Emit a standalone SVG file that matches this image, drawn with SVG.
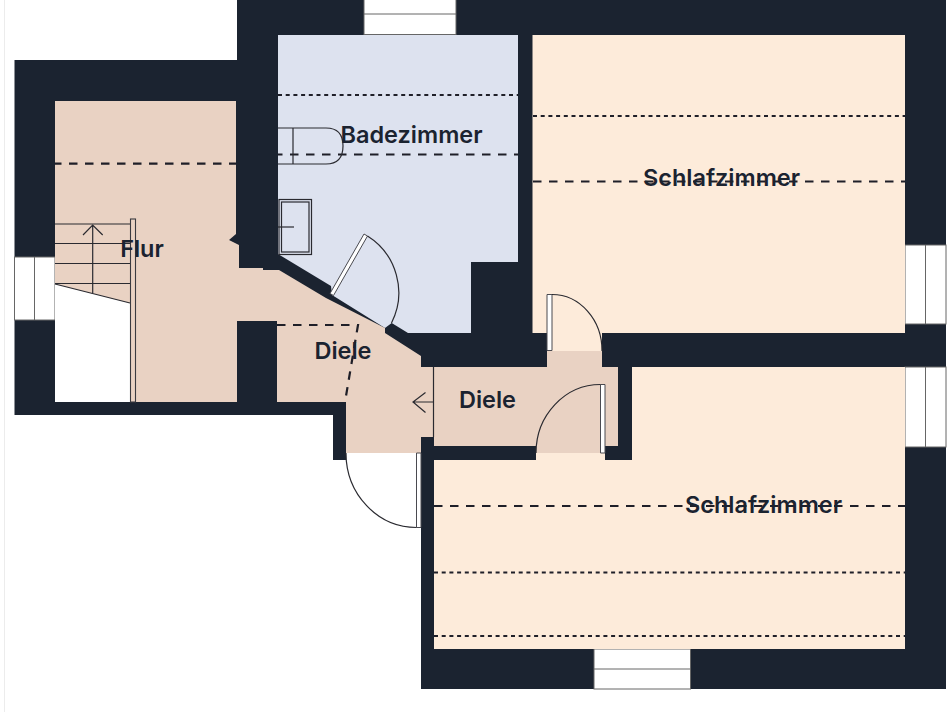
<svg xmlns="http://www.w3.org/2000/svg" width="950" height="712" viewBox="0 0 950 712">
<style>
.lbl{font-family:"Inter","Liberation Sans",sans-serif;font-weight:600;font-size:23.5px;fill:#1b2330;text-anchor:middle}
.thin{fill:none;stroke:#2a2a30;stroke-width:1.200}
.win{fill:#fff;stroke:#666;stroke-width:1}
.leaf{fill:#fff;stroke:#4a4a50;stroke-width:1}
.dash{fill:none;stroke:#1f1f28;stroke-width:2.200;stroke-dasharray:8.500 7.500}
.dot{fill:none;stroke:#1f1f28;stroke-width:2.200;stroke-dasharray:4 3.700}
</style>
<rect width="950" height="712" fill="#fff"/>
<path d="M4.500 0V712" stroke="#ececec" stroke-width="1" fill="none"/>
<g id="walls">
<path fill="#1b2330" d="M14.500 60H237V0H946V689H421V453H346V460H333V415H14.500Z"/>
</g>
<g id="windows">
<rect class="win" x="14.500" y="257" width="40.500" height="63"/><path class="win" d="M34.500 257V320"/>
<rect class="win" x="364" y="-1" width="92" height="35.500"/><path class="win" d="M364 14H456"/>
<rect class="win" x="905" y="245" width="41" height="79"/><path class="win" d="M925.500 245V324"/>
<rect class="win" x="905" y="367" width="41" height="80"/><path class="win" d="M925.500 367V447"/>
<rect class="win" x="594" y="649" width="96.500" height="40"/><path class="win" d="M594 669H690.500"/>
</g>
<g id="bedroom-top">
<path fill="#fdebda" d="M532.500 35H905V333H602V351H547V333H532.500Z"/>
<path class="dot" d="M533 116H905"/>
<path class="dash" d="M533 181.500H905"/>
<text class="lbl" x="721.500" y="185.500">Schlafzimmer</text>
</g>
<g id="bedroom-bottom">
<path fill="#fdebda" d="M632 367H905V649H434V460H536V453H605V460H632Z"/>
<path class="dash" d="M434 506H905"/>
<path class="dot" d="M434 572.500H905"/>
<path class="dot" d="M434 636H905"/>
<text class="lbl" x="763.500" y="512.500">Schlafzimmer</text>
</g>
<g id="bathroom">
<path fill="#dde2ef" d="M278 35H518V262H471V333H408L391.700 323L385 328L332 295L331 286L278 254Z"/>
<path class="dot" d="M278 95H518"/>
<path class="dash" d="M278 154.500H518" stroke-dashoffset="4"/>
<path class="thin" d="M278 128H326Q343 128 343 146Q343 164 326 164H278M293 128V164"/>
<rect class="thin" x="279" y="199.500" width="32.500" height="55"/>
<rect class="thin" x="281.500" y="202" width="27.500" height="50"/>
<path class="thin" d="M278 227H294"/>
<text class="lbl" x="411.500" y="143">Badezimmer</text>
</g>
<g id="hall">
<path fill="#e9d2c3" d="M55 101H236V234L229 240L239 245V268H263V270H279L326 298L385 328V333L421 356V367H433V437H421V453H346V402H277V321H237V402H55Z"/>
<path fill="#e9d2c3" d="M434 367H618V446H605V453H536V446H434Z"/>
<path fill="#e9d2c3" d="M547 351H602V367H547Z"/>
<path fill="#fff" d="M55 284L130 303V402H55Z"/>
<path class="thin" d="M55 224H130M55 243.500H130M55 263.500H130M55 283.500H130M55 284L130 303"/>
<path class="thin" d="M92.700 293V225M83 235L92.700 225L102.700 235"/>
<rect x="130.500" y="219" width="5" height="183" fill="#e9d2c3" stroke="#3a3a40" stroke-width="1.100"/>
<path class="dash" d="M55 163.700H236" stroke-dashoffset="2"/>
<path class="dash" d="M277 325H358L345 402"/>
<path class="thin" d="M433.500 367V437"/>
<path class="thin" d="M433 402H413M425.500 392.500L413 402L425.500 412.500"/>
<text class="lbl" x="142" y="257">Flur</text>
<text class="lbl" x="343" y="359">Diele</text>
<text class="lbl" x="487.500" y="408">Diele</text>
</g>
<g id="doors">
<path class="leaf" d="M416.500 453H421V527.500H416.500Z"/>
<path class="thin" d="M416.500 527.500A70.500 74.500 0 0 1 346 453"/>
<path class="leaf" d="M600.500 384.500H605V453H600.500Z"/>
<path class="thin" d="M600.500 384.500A64.500 68.500 0 0 0 536 453"/>
<path class="leaf" d="M547 294.500H552V350.500H547Z"/>
<path class="thin" d="M552 294.500A50 56 0 0 1 602 351"/>
<path class="leaf" d="M364 234L367.500 236L333.500 295.500L330 293.500Z"/>
<path class="thin" d="M367.500 236A67 67 0 0 1 391.500 323"/>
</g>
</svg>
